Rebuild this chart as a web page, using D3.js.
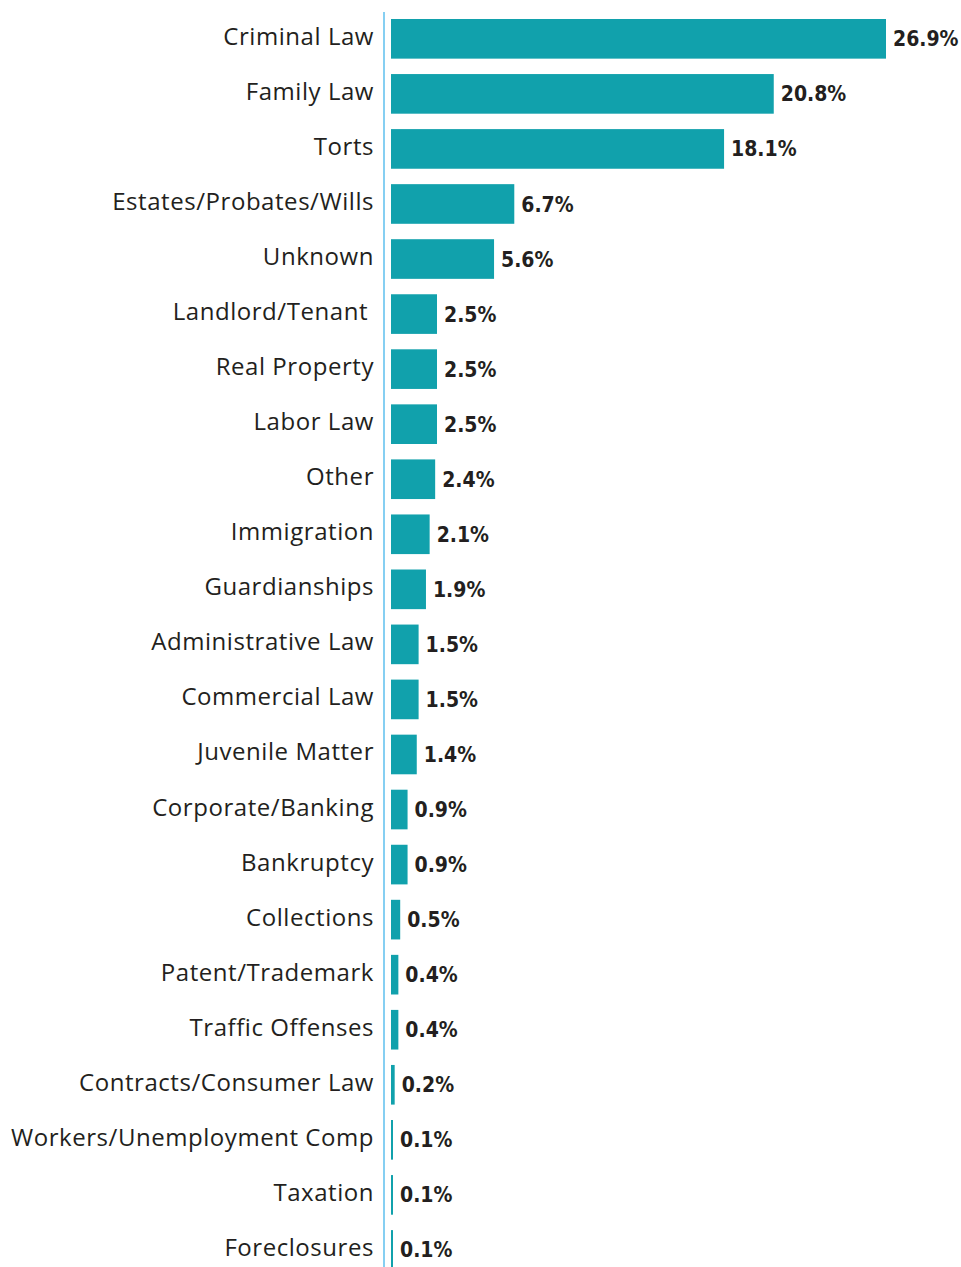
<!DOCTYPE html>
<html>
<head>
<meta charset="utf-8">
<script src="https://cdn.jsdelivr.net/npm/d3@7"></script>
<style>
  body { margin: 0; background: #fff; }
  svg { display: block; }
</style>
</head>
<body>
<div id="chart"></div>
<script>
var width = 961,
    height = 1267;

var categories = ["Criminal Law", "Family Law", "Torts", "Estates/Probates/Wills", "Unknown",
    "Landlord/Tenant", "Real Property", "Labor Law", "Other", "Immigration", "Guardianships",
    "Administrative Law", "Commercial Law", "Juvenile Matter", "Corporate/Banking", "Bankruptcy",
    "Collections", "Patent/Trademark", "Traffic Offenses", "Contracts/Consumer Law",
    "Workers/Unemployment Comp", "Taxation", "Foreclosures"];

var shares = [26.9, 20.8, 18.1, 6.7, 5.6, 2.5, 2.5, 2.5, 2.4, 2.1, 1.9, 1.5, 1.5, 1.4,
    0.9, 0.9, 0.5, 0.4, 0.4, 0.2, 0.1, 0.1, 0.1];

var data = categories.map(function (c, i) { return { name: c, value: shares[i] }; });

var cfg = {
    axisX: 384,
    barX: 391,
    labelX: 374,
    color: "#11a1ac",
    axisColor: "#86cff2",
    text: "#231f20"
};

var svg = d3.select("#chart").append("svg")
    .attr("width", width)
    .attr("height", height);

var x = d3.scaleLinear()
    .domain([0, 26.9])
    .range([cfg.barX, 886]);

var y = d3.scaleBand()
    .domain(categories)
    .range([11.3, 11.3 + 23 * 55.05])
    .paddingInner(0.28)
    .paddingOuter(0.14);

// bars
svg.selectAll(".bar")
    .data(data)
    .enter()
    .append("rect")
    .attr("class", "bar")
    .attr("x", x(0))
    .attr("y", function (d) { return y(d.name); })
    .attr("width", function (d) { return Math.max(2, x(d.value) - x(0)); })
    .attr("height", y.bandwidth())
    .attr("fill", cfg.color);

// vertical axis line
svg.append("line")
    .attr("x1", cfg.axisX).attr("x2", cfg.axisX)
    .attr("y1", 12).attr("y2", height)
    .attr("stroke", cfg.axisColor)
    .attr("stroke-width", 2);

// category labels (Landlord/Tenant sits a little left in the original)
svg.selectAll(".cat")
    .data(data)
    .enter()
    .append("text")
    .attr("class", "cat")
    .attr("x", function (d) { return d.name === "Landlord/Tenant" ? cfg.labelX - 6 : cfg.labelX; })
    .attr("y", function (d) { return y(d.name) + y.bandwidth() / 2 + 6; })
    .attr("text-anchor", "end")
    .style("font-family", "'Open Sans', sans-serif")
    .style("font-size", "24px")
    .style("letter-spacing", "0.55px")
    .style("fill", cfg.text)
    .text(function (d) { return d.name; });

// value labels
svg.selectAll(".val")
    .data(data)
    .enter()
    .append("text")
    .attr("class", "val")
    .attr("x", function (d) { return Math.max(x(d.value), x(0) + 2) + 7; })
    .attr("y", function (d) { return y(d.name) + y.bandwidth() / 2; })
    .attr("dy", "0.36em")
    .style("font-family", "'DejaVu Sans Condensed', 'DejaVu Sans', sans-serif")
    .style("font-weight", "bold")
    .style("font-size", "21px")
    .style("fill", cfg.text)
    .text(function (d) { return d.value.toFixed(1) + "%"; });
</script>
</body>
</html>
